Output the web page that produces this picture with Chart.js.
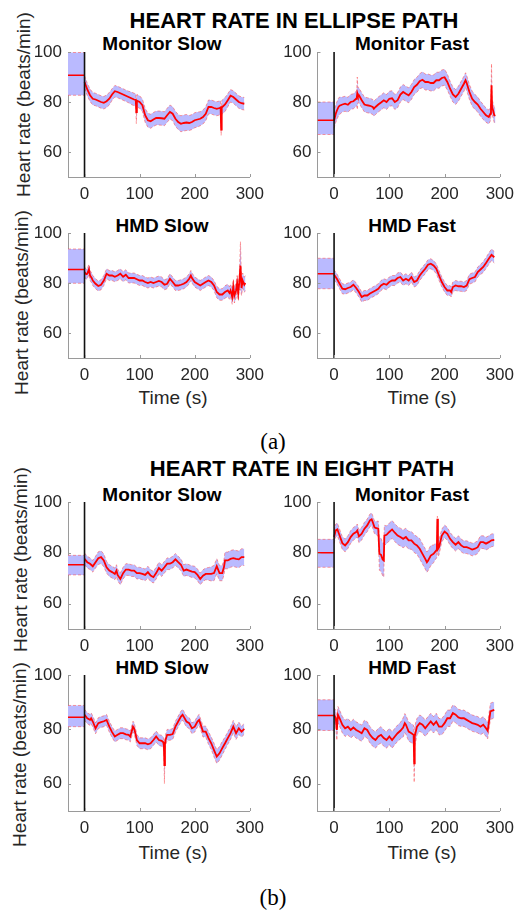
<!DOCTYPE html>
<html>
<head>
<meta charset="utf-8">
<script src="https://cdn.jsdelivr.net/npm/chart.js@4.4.0/dist/chart.umd.min.js"></script>
<style>
  body { margin: 0; background: #fff; width: 524px; height: 911px; position: relative; overflow: hidden;
         font-family: 'Liberation Sans', Arial, sans-serif; }
  canvas { position: absolute; }
  .t { position: absolute; text-align: center; white-space: nowrap; line-height: 1; }
  .main { font-weight: bold; font-size: 22px; color: #000; width: 400px; }
  .sub { font-weight: bold; font-size: 19px; color: #000; width: 200px; }
  .xl { font-size: 19px; color: #262626; width: 200px; }
  .yl { font-size: 19px; color: #262626; width: 240px; height: 19px; transform: rotate(-90deg); }
  .cap { font-family: 'Liberation Serif', 'Times New Roman', serif; font-size: 23px; color: #000; width: 100px; }
</style>
</head>
<body>

<div class="t main" style="left:94px; top:10px;">HEART RATE IN ELLIPSE PATH</div>
<div class="t sub" style="left:62px; top:34px;">Monitor Slow</div>
<div class="t sub" style="left:312px; top:34px;">Monitor Fast</div>
<div class="t sub" style="left:62px; top:216px;">HMD Slow</div>
<div class="t sub" style="left:312px; top:216px;">HMD Fast</div>
<div class="t xl" style="left:73px; top:388px;">Time (s)</div>
<div class="t xl" style="left:322px; top:388px;">Time (s)</div>
<div class="t cap" style="left:223px; top:430px;">(a)</div>

<div class="t main" style="left:102px; top:458px;">HEART RATE IN EIGHT PATH</div>
<div class="t sub" style="left:62px; top:485px;">Monitor Slow</div>
<div class="t sub" style="left:312px; top:485px;">Monitor Fast</div>
<div class="t sub" style="left:62px; top:658px;">HMD Slow</div>
<div class="t sub" style="left:312px; top:658px;">HMD Fast</div>
<div class="t xl" style="left:73px; top:843px;">Time (s)</div>
<div class="t xl" style="left:322px; top:843px;">Time (s)</div>
<div class="t cap" style="left:223px; top:886px;">(b)</div>

<div class="t yl" style="left:-97px; top:95px;">Heart rate (beats/min)</div>
<div class="t yl" style="left:-99px; top:293px;">Heart rate (beats/min)</div>
<div class="t yl" style="left:-100px; top:550px;">Heart rate (beats/min)</div>
<div class="t yl" style="left:-101px; top:745px;">Heart rate (beats/min)</div>

<canvas id="c1" width="271" height="173" style="left:0px; top:32px;"></canvas>
<canvas id="c2" width="246" height="173" style="left:275px; top:32px;"></canvas>
<canvas id="c3" width="271" height="173" style="left:0px; top:213px;"></canvas>
<canvas id="c4" width="246" height="173" style="left:275px; top:213px;"></canvas>
<canvas id="c5" width="271" height="175" style="left:0px; top:482px;"></canvas>
<canvas id="c6" width="246" height="175" style="left:275px; top:482px;"></canvas>
<canvas id="c7" width="271" height="184" style="left:0px; top:655px;"></canvas>
<canvas id="c8" width="246" height="184" style="left:275px; top:655px;"></canvas>

<script>
// tick values
const xTicks = [0, 100, 200, 300];
const yTicks = [60, 80, 100];

// baseline period (-30..0 s): [mean, lower, upper]
const ellMonSlowBase = [90.7, 82.7, 99.8];
const ellMonFastBase = [72.7, 67, 80];
const ellHmdSlowBase = [85.4, 79.9, 93.6];
const ellHmdFastBase = [83.7, 77.7, 89.9];
const eigMonSlowBase = [75.3, 71.3, 79];
const eigMonFastBase = [80, 74.3, 85.3];
const eigHmdSlowBase = [84.5, 81, 88.8];
const eigHmdFastBase = [85.1, 79.6, 90.9];

// ---- ellipse path ----
const ellMonSlowT = [0,5,10,15,20,25,30,35,40,45,
  50,55,60,65,70,75,80,85,90,93,
  94,95,100,105,110,115,120,125,130,135,
  140,145,150,155,160,165,170,175,180,185,
  190,195,200,205,210,215,220,225,230,235,
  240,245,247,248,249,250,255,260,265,270,
  275,280,285,290];
const ellMonSlowHR = [88,85,82.7,81.3,81,80.5,80,79.7,80.3,81.3,
  83,84.3,84,83.5,83,82.5,82,81.5,81,80.8,
  76,80.5,80,78.7,74.7,72.7,72.3,73,73.6,73.6,
  73.5,73.3,74.7,76,75.3,73.3,72,71.3,71.6,71.8,
  71.6,72,72.7,73,73.3,74,75.3,78,78,77.6,
  77.3,77.6,77.8,69,77.8,78,79,80.7,82.5,82,
  81,80,79.5,79.3];
const ellMonSlowSD = [2.5,2.5,2.5,2.5,2.5,2.5,2.5,2.5,2.5,2.5,
  2.3,2.3,2.3,2.3,2.3,2.3,2.3,2.5,2.5,2.5,
  4.6,2.5,2.5,2.5,2.8,2.8,2.8,2.8,2.8,2.8,
  2.8,2.8,2.8,2.8,2.8,3,3,3.2,3.2,3.2,
  3,3,3,3,2.8,2.8,2.8,2.8,2.8,2.8,
  2.8,2.8,2.8,2.3,2.8,2.8,2.8,2.6,2.5,2.5,
  2.5,2.5,2.5,2.5];

const ellMonFastT = [0,3,5,8,10,15,20,25,30,35,
  40,41,42,43,45,50,55,60,65,70,
  72,75,80,85,90,95,100,105,110,115,
  120,125,130,135,140,145,150,155,160,165,
  170,175,180,185,190,195,200,205,210,215,
  220,225,230,235,238,240,245,250,255,260,
  265,270,275,280,283,284,285,286,288,290,
  292];
const ellMonFastHR = [72.5,75.3,76.5,78,78.5,79,79.3,78.9,80,80.3,
  81.3,81.5,83.5,82.7,82.7,80.7,79,78.7,78.5,78,
  77.3,78,79,79.8,80.7,80,81.3,81.5,80,80.7,
  83,84,83.3,82.7,84,86,86.9,88.3,88.9,88,
  88,87.6,87.6,88.7,88.7,89.6,89.9,88,85.3,83,
  82,83.3,85.3,87.3,88.7,87.6,84,81.3,80,79,
  77.3,76,74.7,74,75.3,78,86.7,78,76.5,74.7,
  74.5];
const ellMonFastSD = [3,3.5,3.5,3.5,3.5,3,3,3,3,3,
  3,3,6.5,3,3,3,3,3,3,3,
  3,3,3,3,3,3,3,3,3,3,
  3,3,3,3,3,3,3,3,3.2,3.2,
  3.2,3.2,3.2,3.2,3.2,3.2,3.2,3.2,3,3,
  3,3,3,3,3,3,3,3,3,3,
  3,3,2.8,2.8,2.8,3,8.6,3,3,3,
  3];

const ellHmdSlowT = [0,3,5,8,10,13,15,20,25,30,
  35,40,45,50,55,60,65,70,75,80,
  85,90,95,100,105,110,115,120,125,130,
  135,140,145,150,155,160,165,170,175,180,
  185,190,193,195,200,205,210,215,220,225,
  230,235,240,245,250,255,260,263,265,268,
  270,272,275,277,279,281,283,285,287,290,
  292];
const ellHmdSlowHR = [84.4,83.5,83.7,85.5,83,82,81,79.7,78.8,79.3,
  81,83.7,83,83,82.5,83,83.7,82.5,83.3,82,
  82,82,81.5,81,81,80.4,80,80.4,80,80.4,
  80.8,80.4,79.3,79.7,81.7,80.4,79,79,79.3,79.7,
  80.4,81.7,83,82,80.4,79.7,79,79.7,80.4,81,
  80.4,79,76.4,75.4,75.4,76.4,77,76,77,74.5,
  78.5,75,77,80,76,80.4,87,78,81,79.3,
  80];
const ellHmdSlowSD = [2,2,2,2,2,2,2,2,2,2,
  2,2,2,2,2,2,2,2,2,2,
  2,2,2,2,2,2,2,2,2,2,
  2,2,2,2,2,2,2,2,2,2,
  2,2,2,2,2,2,2,2,2,2,
  2,2,2.3,2.3,2.3,2.5,2.5,2.5,2.5,3,
  3,3,3,3,3,3,9.5,3,3,3,
  3];

const ellHmdFastT = [0,5,10,15,20,25,30,35,40,45,
  50,55,60,65,70,75,80,85,90,95,
  100,105,110,115,120,125,130,135,140,145,
  150,155,160,165,170,175,180,185,190,195,
  200,205,210,212,215,220,225,230,235,240,
  245,250,255,260,265,270,275,280,285,290];
const ellHmdFastHR = [83.3,81.7,79.7,77.7,77.5,78,78.4,79.3,78,76.4,
  74.4,75,75,75.8,76.4,77,77.7,79,79.7,79.3,
  80.4,81,81,82,82.4,81,81.7,81,82.4,80.4,
  81,83,84.4,85.7,87.3,87.7,87,85.7,83,80.4,
  78.4,77,77,76.4,78.4,79,78.7,78.7,78.4,79,
  81.5,82,82.4,84.4,85.4,86.4,88,89.7,91.3,90.3];
const ellHmdFastSD = [2,2,2,2,2,2,2,2,2,2,
  2,2,2,2,2,2,2,2,2,2,
  2,2,2,2,2,2,2,2,2,2,
  2,2,2,2,2,2,2,2,2,2,
  2,2,2,2,2,2,2,2,2,2,
  2,2,2,2,2,2.2,2.2,2.3,2.3,2.3];

// ---- eight path ----
const eigMonSlowT = [0,5,10,15,20,25,30,35,40,45,
  50,55,58,60,65,70,75,80,85,90,
  95,100,105,110,115,120,125,130,135,140,
  145,150,155,160,165,170,175,180,185,190,
  195,200,205,210,215,220,225,230,235,240,
  245,250,253,255,260,265,270,275,280,285,
  290];
const eigMonSlowHR = [77.6,76.3,75.7,74.7,76.3,77.9,78.3,77,74.3,73,
  72.4,71.7,73,71.3,69.7,72,73.4,73.4,73,73,
  72,72,71.7,71.3,72.4,71,70.4,72,74,73,
  74.3,75.7,75.7,76.3,77.4,76.3,75.3,73,73.4,73,
  72.6,72.4,71.3,69.7,71,71.7,71.7,71.7,72,74.7,
  72,72,74.3,77,77,77.6,77.9,77.6,77.4,78.3,
  78.3];
const eigMonSlowSD = [2.3,2.3,2.3,2.3,2.3,2.5,2.5,2.5,2.3,2.3,
  2.3,2.3,2.3,2.3,2.3,2.3,2.3,2.3,2.3,2.3,
  2.3,2.3,2.3,2.3,2.3,2.3,2.3,2.3,2.3,2.3,
  2.3,2.3,2.3,2.3,2.3,2.3,2.3,2.3,2.3,2.3,
  2.3,2.3,2.3,2.3,2.3,2.3,2.5,2.8,3,3,
  3,3,3,3.3,3.3,3.3,3.3,3.3,3.3,3.3,
  3.3];

const eigMonFastT = [0,3,6,10,15,20,25,30,35,40,
  42,45,50,55,60,65,68,70,73,75,
  80,82,85,88,90,91,95,100,105,110,
  115,120,125,130,135,140,145,150,155,160,
  165,168,170,175,180,185,186,187,188,190,
  195,200,205,210,215,220,225,230,235,240,
  245,250,255,260,265,270,275,280,285,290];
const eigMonFastHR = [86.2,88.8,89.2,86.8,83.8,82.9,84.2,86.2,87.5,88.2,
  88.8,86.5,87.5,89.5,90.8,92.8,93.2,92.1,90.1,89.8,
  89.5,79.6,79.2,77.4,77,86.8,87.1,88.2,89.2,87.9,
  86.8,86.2,85.5,86.2,84.9,84.9,83.6,82.9,81.6,79.6,
  77.6,76.3,76.9,78.9,79.6,80.9,81,93.4,81.5,82.2,
  86.8,88.4,87.5,85.5,84.2,83.2,84.2,82.9,82.2,82.2,
  81.8,81.3,81.6,82.2,84.2,84.2,83.6,84.2,84.9,85.1];
const eigMonFastSD = [2.5,2.5,2.5,2.5,2.5,2.5,2.5,2.5,2.5,2.5,
  2.5,2.5,2.5,2.5,2.5,2.5,2.5,2.5,2.5,2.5,
  3,6.5,6.5,6.5,6.5,4,3.5,3.5,3.5,3.5,
  3.5,3.5,3.5,3.5,3.5,3.5,3.5,3.5,4,4,
  4,4,4,4,3.5,3,3,1,3,3,
  2.5,2.5,2.5,2.5,2.5,2.5,2.5,2.5,2.5,2.5,
  2.5,2.5,2.5,2.5,2.5,2.5,2.5,2.5,2.5,2.5];

const eigHmdSlowT = [0,5,10,12,15,20,25,30,35,40,
  45,50,55,60,65,70,75,80,83,88,
  90,93,95,100,105,110,115,120,125,130,
  135,140,143,144,145,146,147,150,155,160,
  165,170,175,178,180,185,190,195,200,205,
  208,210,215,220,225,230,235,240,245,250,
  255,260,265,270,275,280,285,290];
const eigHmdSlowHR = [85.4,84.1,83.5,84.1,82.9,80.4,82.3,82.7,83,83.5,
  81,79,77.4,78,78.6,78.6,78.2,78,77.4,81,
  80.4,78,76.1,74.9,74.9,74.9,74.5,74.9,76.1,77.4,
  76.1,75.8,75.3,74,66.9,74.5,76.1,78,78,78.3,
  81,82.9,84.7,85.4,84.7,82.9,82.3,80.4,81,82.9,
  83.5,82.3,79.2,79.2,76.8,74.9,72.4,70,71.2,73.1,
  74.9,76.8,78.6,81,78.6,80.4,79.2,80.2];
const eigHmdSlowSD = [2,2,2,2,2,2,2,2,2,2,
  2,2,2,2,2,2,2,2,2,2,
  2,2,2,2,2,2,2,2,2,2,
  2,2,2,2,6.8,2,2,2,2,2,
  2,2,2,2,2,2,2,2,2,2,
  2,2,2,2,2.3,2.3,2.5,2.5,2.5,2.5,
  2.3,2.3,2.3,2.3,2.3,2.3,2,2];

const eigHmdFastT = [0,3,5,7,10,15,20,25,30,35,
  40,45,50,55,60,65,70,75,80,85,
  90,95,100,105,110,115,120,125,128,130,
  135,140,144,145,146,148,150,155,160,165,
  170,175,180,185,190,195,200,205,210,215,
  220,225,230,235,240,245,250,255,260,265,
  270,275,278,280,283,285,290];
const eigHmdFastHR = [85.4,84.1,79.8,85.4,84.1,81.7,80.4,81,79.8,80.7,
  79.8,79.2,78.6,80.4,79.8,78,76.8,76.1,77.4,78,
  76.8,76.1,77.4,76.1,77.4,78.6,79.5,80.7,82.3,81.7,
  79.2,78.6,78,67.5,77.5,79.2,81,82.3,81.7,80.4,
  81.7,82.9,81.7,82.9,81,81,82.3,84.1,84.1,86,
  85.4,84.4,84.1,84.1,83.5,82.9,82.3,82,81.7,81,
  81.7,80.4,79.5,82.3,86.6,86.8,87.2];
const eigHmdFastSD = [2.5,3,3.8,3,3,3,3,3,3,3,
  3,3,3,3,3,3,3,3,3,3,
  3,3,3,3,3,3,3,3.5,3.5,3.5,
  3.5,3.5,3.5,7,3.5,3.5,3,3,3,3,
  3,3,3,3,3,3,3,3,3,3,
  3,3,3,3,3,3,3,3,3,3,
  3,3,3,3,3,3,3];

const RED = '#ff0000';
const EDGE = 'rgba(255,70,70,0.65)';
const BAND = 'rgb(186,186,255)';
const AXIS = '#9a9a9a';
const TXT = '#262626';
const X_MIN = -30, X_MAX = 300, Y_MIN = 50, Y_MAX = 100;

Chart.defaults.font.family = "'Liberation Sans', Arial, sans-serif";
Chart.defaults.color = TXT;

// MATLAB style ticks pointing into the axes
const innerTicks = {
  id: 'innerTicks',
  afterDraw(chart) {
    const { ctx, chartArea, scales: { x, y } } = chart;
    ctx.save();
    ctx.strokeStyle = AXIS;
    ctx.lineWidth = 1;
    ctx.beginPath();
    x.ticks.forEach(t => {
      const px = Math.round(x.getPixelForValue(t.value)) + 0.5;
      ctx.moveTo(px, chartArea.bottom);
      ctx.lineTo(px, chartArea.bottom - 3);
    });
    y.ticks.forEach(t => {
      const py = Math.round(y.getPixelForValue(t.value)) + 0.5;
      ctx.moveTo(chartArea.left, py);
      ctx.lineTo(chartArea.left + 3, py);
    });
    ctx.stroke();
    ctx.restore();
  }
};

function drawPanel(id, t, hr, sd, base, yWidth) {
  const mean = t.map((v, i) => ({ x: v, y: hr[i] }));
  const upper = t.map((v, i) => ({ x: v, y: hr[i] + sd[i] }));
  const lower = t.map((v, i) => ({ x: v, y: hr[i] - sd[i] }));
  const baseX = [X_MIN, 0];
  const edge = { borderColor: EDGE, borderWidth: 0.8, borderDash: [3, 2] };

  new Chart(document.getElementById(id), {
    type: 'line',
    data: {
      datasets: [
        { data: [{ x: 0, y: Y_MIN }, { x: 0, y: Y_MAX }], borderColor: '#111', borderWidth: 1.6 },
        { data: mean, borderColor: RED, borderWidth: 1.8 },
        { data: baseX.map(x => ({ x, y: base[0] })), borderColor: RED, borderWidth: 1.5 },
        { data: upper, ...edge, backgroundColor: BAND, fill: '+1' },
        { data: lower, ...edge },
        { data: baseX.map(x => ({ x, y: base[2] })), ...edge, backgroundColor: BAND, fill: '+1' },
        { data: baseX.map(x => ({ x, y: base[1] })), ...edge }
      ]
    },
    options: {
      responsive: false,
      animation: false,
      devicePixelRatio: 1,
      layout: { padding: { top: 20, right: 16, bottom: 0, left: 0 } },
      elements: { point: { radius: 0 }, line: { tension: 0 } },
      plugins: {
        legend: { display: false },
        tooltip: { enabled: false },
        filler: { drawTime: 'beforeDatasetsDraw' }
      },
      scales: {
        x: {
          type: 'linear', min: X_MIN, max: X_MAX,
          grid: { display: false, drawTicks: false },
          border: { display: true, color: AXIS, width: 1 },
          ticks: { padding: 7, color: TXT, font: { size: 17 } },
          afterBuildTicks: s => { s.ticks = xTicks.map(v => ({ value: v })); },
          afterFit: s => { s.height = 28; }
        },
        y: {
          type: 'linear', min: Y_MIN, max: Y_MAX,
          grid: { display: false, drawTicks: false },
          border: { display: true, color: AXIS, width: 1 },
          ticks: { padding: 6, color: TXT, font: { size: 17 } },
          afterBuildTicks: s => { s.ticks = yTicks.map(v => ({ value: v })); },
          afterFit: s => { s.width = yWidth; }
        }
      }
    },
    plugins: [innerTicks]
  });
}

drawPanel('c1', ellMonSlowT, ellMonSlowHR, ellMonSlowSD, ellMonSlowBase, 68);
drawPanel('c2', ellMonFastT, ellMonFastHR, ellMonFastSD, ellMonFastBase, 42.5);
drawPanel('c3', ellHmdSlowT, ellHmdSlowHR, ellHmdSlowSD, ellHmdSlowBase, 68);
drawPanel('c4', ellHmdFastT, ellHmdFastHR, ellHmdFastSD, ellHmdFastBase, 42.5);
drawPanel('c5', eigMonSlowT, eigMonSlowHR, eigMonSlowSD, eigMonSlowBase, 68);
drawPanel('c6', eigMonFastT, eigMonFastHR, eigMonFastSD, eigMonFastBase, 42.5);
drawPanel('c7', eigHmdSlowT, eigHmdSlowHR, eigHmdSlowSD, eigHmdSlowBase, 68);
drawPanel('c8', eigHmdFastT, eigHmdFastHR, eigHmdFastSD, eigHmdFastBase, 42.5);
</script>
</body>
</html>
